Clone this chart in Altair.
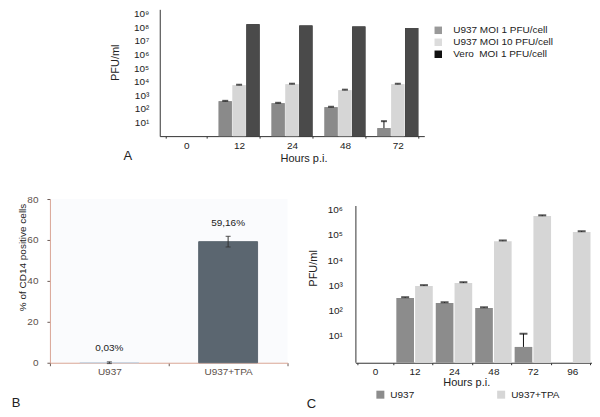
import altair as alt
import pandas as pd

FONT = "Liberation Sans"
SUP = ["⁰", "¹", "²", "³", "⁴", "⁵", "⁶", "⁷", "⁸", "⁹"]
SUP_EXPR = "'10' + [" + ",".join("'%s'" % s for s in SUP) + "][round(log(datum.value)/LN10)]"

# ---------------- Panel A data ----------------
a_hours = ["0", "12", "24", "48", "72"]
a_series = ["U937 MOI 1 PFU/cell", "U937 MOI 10 PFU/cell", "Vero\u00a0\u00a0MOI 1 PFU/cell"]
a_moi1 = [None, 370, 265, 135, 3.9]
a_moi1_err = [None, 25, 18, 10, 8.7]
a_moi10 = [None, 5600, 6600, 2400, 6600]
a_moi10_err = [None, 450, 600, 220, 550]
a_vero = [None, 1.7e8, 1.4e8, 1.15e8, 9.0e7]
a_vero_err = [None, 0, 0, 0, 0]
a_bar_colors = ["#8a8a8a", "#d6d6d6", "#4a4a4a"]
a_legend_colors = ["#999999", "#dcdcdc", "#111111"]
A_MIN, A_MAX = 1, 10 ** 9.33

# ---------------- Panel B data ----------------
b_cells = ["U937", "U937+TPA"]
b_values = [0.03, 59.16]
b_err = [0.4, 2.6]
b_labels = ["0,03%", "59,16%"]
b_colors = ["#c9d5e2", "#5b6670"]

# ---------------- Panel C data ----------------
c_hours = ["0", "12", "24", "48", "72", "96"]
c_series = ["U937", "U937+TPA"]
c_u937 = [None, 316, 200, 126, 3.6, None]
c_u937_err = [None, 20, 12, 8, 8.4, None]
c_tpa = [None, 940, 1230, 56000, 550000, 129000]
c_tpa_err = [None, 70, 90, 3500, 40000, 9000]
c_colors = ["#8c8c8c", "#d6d6d6"]
C_MIN, C_AXIS_TOP, C_VIEW_TOP = 10 ** -0.07, 10 ** 6.14, 10 ** 6.417

# ---------------- tables ----------------
rowsA = []
for i, h in enumerate(a_hours):
    for s, vals, errs in zip(a_series, [a_moi1, a_moi10, a_vero], [a_moi1_err, a_moi10_err, a_vero_err]):
        if vals[i] is not None:
            rowsA.append({"hour": h, "series": s, "value": vals[i], "upper": vals[i] + errs[i]})
dfA = pd.DataFrame(rowsA)

dfB = pd.DataFrame({"cell": b_cells, "value": b_values,
                    "lower": [v - e for v, e in zip(b_values, b_err)],
                    "upper": [v + e for v, e in zip(b_values, b_err)],
                    "label": b_labels})

rowsC = []
for i, h in enumerate(c_hours):
    for s, vals, errs in zip(c_series, [c_u937, c_tpa], [c_u937_err, c_tpa_err]):
        if vals[i] is not None:
            rowsC.append({"hour": h, "series": s, "value": vals[i], "upper": vals[i] + errs[i]})
dfC = pd.DataFrame(rowsC)

TXT = "#222222"
IND = dict(x="independent", y="independent", xOffset="independent", color="independent",
           fill="independent", stroke="independent")


def anchors(xs, ys):
    """Invisible layout anchors (pixel offsets, no scale) that fix each panel's extent."""
    return alt.Chart(pd.DataFrame({"px": xs, "py": ys})).mark_point(opacity=0, size=1).encode(
        x=alt.X("px:Q", scale=None), y=alt.Y("py:Q", scale=None))


# ---------------- Panel A (plot area shifted 110px right inside its view) ----------------
A_SHIFT, A_W = 110, 265
xA = alt.X("hour:N", scale=alt.Scale(domain=a_hours, range=[A_SHIFT, A_SHIFT + A_W],
                                     paddingInner=0.226, paddingOuter=0.113),
           axis=alt.Axis(labelAngle=0, tickBand="extent", tickSize=2, tickColor="#333", domainColor="#333",
                         labelPadding=2, labelFontSize=10, labelColor=TXT, title="Hours p.i.",
                         titleFontSize=11, titleFontWeight="normal", titleColor=TXT,
                         titleBaseline="middle", titleX=A_SHIFT + 144, titleY=22))
xoA = alt.XOffset("series:N", scale=alt.Scale(domain=a_series, paddingInner=0.05))
yscA = alt.Scale(type="log", domain=[A_MIN, A_MAX])
yA = alt.Y("value:Q", scale=yscA,
           axis=alt.Axis(values=[10 ** k for k in range(1, 10)], labelExpr=SUP_EXPR, ticks=False, tickSize=0,
                         offset=-A_SHIFT, labelPadding=11, domainColor="#333", labelColor=TXT, labelFontSize=10,
                         title="PFU/ml", titleFontSize=11, titleFontWeight="normal", titleColor=TXT,
                         titleBaseline="middle", titleX=-44, titleY=53))

baseA = alt.Chart(dfA)
legendA = baseA.mark_bar().encode(
    x=xA, xOffset=xoA, y=yA, y2=alt.datum(A_MIN),
    color=alt.Color("series:N", scale=alt.Scale(domain=a_series, range=a_legend_colors),
                    legend=alt.Legend(title=None, orient="none", legendX=A_SHIFT + 274, legendY=16,
                                      symbolType="square", symbolSize=56, symbolStrokeWidth=0,
                                      labelFont=FONT, labelFontSize=10, labelColor=TXT,
                                      labelOffset=10, rowPadding=2)))
barsA = baseA.mark_bar().encode(
    x=xA, xOffset=xoA, y=yA, y2=alt.datum(A_MIN),
    fill=alt.Fill("series:N", scale=alt.Scale(domain=a_series, range=a_bar_colors), legend=None))
errA = baseA.transform_filter(alt.datum.upper > alt.datum.value)
ruleA = errA.mark_rule(color="#111", strokeWidth=1).encode(x=xA, xOffset=xoA, y=yA, y2="upper:Q")
capA = errA.mark_tick(color="#111", orient="horizontal", size=6, thickness=2).encode(
    x=xA, xOffset=xoA, y=alt.Y("upper:Q", scale=yscA))
letterA = alt.Chart(pd.DataFrame({"t": ["A"]})).mark_text(fontSize=13, font=FONT, color=TXT).encode(
    x=alt.value(A_SHIFT - 32), y=alt.value(147), text="t:N")
chartA = alt.layer(legendA, barsA, ruleA, capA, letterA, anchors([200, 200], [0, 172])).properties(
    width=A_SHIFT + A_W, height=127)

# ---------------- Panel B ----------------
BAX = "#d9a595"
BLAB = "#5c504a"
xB = alt.X("cell:N", scale=alt.Scale(domain=b_cells, paddingInner=0, paddingOuter=0),
           axis=alt.Axis(labelAngle=0, tickBand="extent", tickSize=3, tickColor="#6a5a55", domainColor=BAX,
                         labelPadding=1, labelFontSize=10, labelColor=BLAB, title=None))
yscB = alt.Scale(domain=[0, 80])
yB = alt.Y("value:Q", scale=yscB,
           axis=alt.Axis(values=[0, 20, 40, 60, 80], tickSize=3, tickColor="#6a5a55", domainColor=BAX,
                         labelPadding=9, labelFontSize=10, labelColor=BLAB,
                         title="% of CD14 positive cells", titleFontSize=10, titleFontWeight="normal",
                         titleColor=TXT, titleBaseline="middle", titleX=-27, titleY=58))
baseB = alt.Chart(dfB)
barsB = baseB.mark_bar(size=59, strokeWidth=1).encode(
    x=xB, y=yB,
    fill=alt.Fill("cell:N", scale=alt.Scale(domain=b_cells, range=b_colors), legend=None),
    stroke=alt.Stroke("cell:N", scale=alt.Scale(domain=b_cells, range=b_colors), legend=None))
ruleB = baseB.mark_rule(color="#333", strokeWidth=1).encode(x=xB, y=alt.Y("lower:Q", scale=yscB), y2="upper:Q")
capBt = baseB.mark_tick(color="#333", orient="horizontal", size=5, thickness=1.2).encode(
    x=xB, y=alt.Y("upper:Q", scale=yscB))
capBb = baseB.mark_tick(color="#333", orient="horizontal", size=5, thickness=1.2).encode(
    x=xB, y=alt.Y("lower:Q", scale=yscB))
textB = baseB.mark_text(font=FONT, fontSize=10, color=TXT, dy=-13.5, baseline="middle").encode(
    x=xB, y=alt.Y("upper:Q", scale=yscB), text="label:N")
letterB = alt.Chart(pd.DataFrame({"t": ["B"]})).mark_text(fontSize=13, font=FONT, color=TXT).encode(
    x=alt.value(-34), y=alt.value(204), text="t:N")
chartB = alt.layer(barsB, ruleB, capBt, capBb, textB, letterB, anchors([-41], [-10])).properties(
    width=238, height=164, view=alt.ViewBackground(fill="#fafbfd", stroke=None))

# ---------------- Panel C ----------------
xC = alt.X("hour:N", scale=alt.Scale(domain=c_hours, paddingInner=0.076, paddingOuter=0.038),
           axis=alt.Axis(labelAngle=0, tickBand="extent", tickSize=2, tickColor="#333", domainColor="#333",
                         labelPadding=2, labelFontSize=10, labelColor=TXT, title="Hours p.i.",
                         titleFontSize=11, titleFontWeight="normal", titleColor=TXT,
                         titleBaseline="middle", titleX=111, titleY=20))
xoC = alt.XOffset("series:N", scale=alt.Scale(domain=c_series, paddingInner=0.06))
yscC = alt.Scale(type="log", domain=[C_MIN, C_VIEW_TOP])
yC = alt.Y("value:Q", scale=yscC,
           axis=alt.Axis(values=[10 ** k for k in range(1, 7)], labelExpr=SUP_EXPR, ticks=False, tickSize=0,
                         domain=False, labelPadding=13, labelColor=TXT, labelFontSize=10,
                         title="PFU/ml", titleFontSize=11, titleFontWeight="normal", titleColor=TXT,
                         titleBaseline="middle", titleX=-42, titleY=69))
baseC = alt.Chart(dfC)
barsC = baseC.mark_bar().encode(
    x=xC, xOffset=xoC, y=yC, y2=alt.datum(C_MIN),
    color=alt.Color("series:N", scale=alt.Scale(domain=c_series, range=c_colors),
                    legend=alt.Legend(title=None, orient="none", legendX=20, legendY=191, direction="horizontal",
                                      symbolType="square", symbolSize=64, symbolStrokeWidth=0,
                                      labelFont=FONT, labelFontSize=10, labelColor=TXT,
                                      labelOffset=5, columnPadding=82)))
ruleC = baseC.mark_rule(color="#111", strokeWidth=1).encode(x=xC, xOffset=xoC, y=yC, y2="upper:Q")
capC = baseC.mark_tick(color="#111", orient="horizontal", size=8, thickness=2).encode(
    x=xC, xOffset=xoC, y=alt.Y("upper:Q", scale=yscC))
axisLineC = alt.Chart(pd.DataFrame({"lo": [C_MIN], "hi": [C_AXIS_TOP]})).mark_rule(
    color="#333", strokeWidth=1).encode(x=alt.value(0.5), y=alt.Y("lo:Q", scale=yscC), y2="hi:Q")
letterC = alt.Chart(pd.DataFrame({"t": ["C"]})).mark_text(fontSize=13, font=FONT, color=TXT).encode(
    x=alt.value(-44), y=alt.value(205), text="t:N")
chartC = alt.layer(barsC, ruleC, capC, axisLineC, letterC).properties(width=237, height=164)

# ---------------- layout ----------------
bottom = alt.hconcat(chartB, chartC, spacing=68, bounds="flush").resolve_scale(**IND).resolve_legend(
    color="independent")
chart = alt.vconcat(chartA, bottom, spacing=6).resolve_scale(**IND).resolve_legend(
    color="independent").properties(
    padding={"left": 0, "top": 0, "right": 0, "bottom": 0}
).configure_view(stroke=None).configure_axis(
    grid=False, labelFont=FONT, titleFont=FONT
).configure_legend(labelFont=FONT).configure_text(font=FONT)

chart.save("out.html", embed_options={"renderer": "svg", "actions": False})
